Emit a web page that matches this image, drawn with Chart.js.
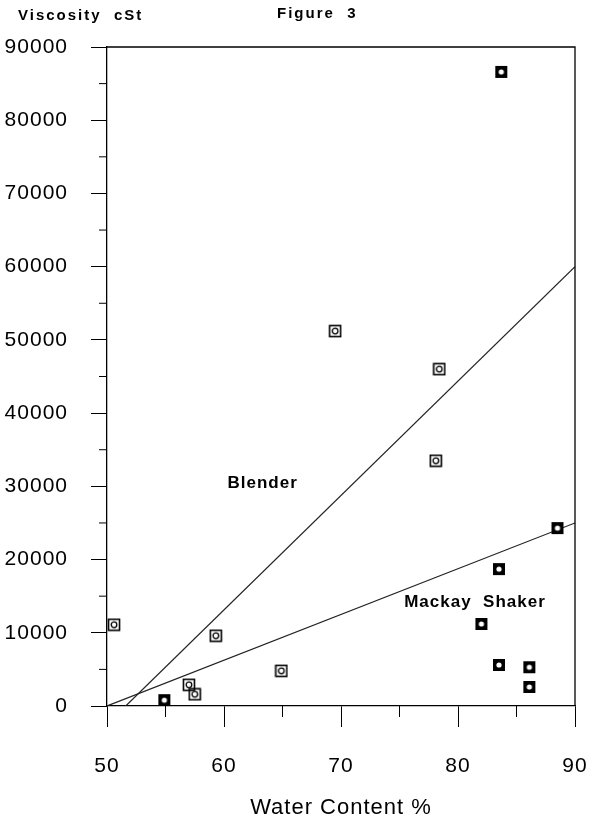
<!DOCTYPE html>
<html lang="en">
<head>
    <meta charset="UTF-8">
    <title>Figure 3 - Viscosity vs Water Content</title>
    <script src="https://cdn.jsdelivr.net/npm/chart.js"></script>
    <style>
        html, body {
            margin: 0;
            padding: 0;
            background: #fff;
        }
        .chart-box {
            width: 589px;
            height: 821px;
        }
    </style>
</head>
<body>
    <div class="chart-box">
        <canvas id="viscosityChart" width="589" height="821"></canvas>
    </div>

    <script>
        // Blender samples
        const blenderWater = [50.6, 59.3, 57.0, 57.5, 64.9, 69.5, 78.4, 78.1];
        const blenderVisc = [11100, 9600, 2900, 1600, 4800, 51200, 46000, 33500];

        // Mackay Shaker samples
        const shakerWater = [54.9, 83.7, 88.5, 83.5, 82.0, 83.5, 86.1, 86.1];
        const shakerVisc = [800, 86600, 24300, 18700, 11200, 5600, 5300, 2600];

        // fitted lines (end points)
        const blenderFitWater = [51.6, 90];
        const blenderFitVisc = [0, 60000];
        const shakerFitWater = [50, 90];
        const shakerFitVisc = [0, 25000];

        const xTicks = [50, 60, 70, 80, 90];
        const xMinorTicks = [55, 65, 75, 85];
        const yMinorTicks = [5000, 15000, 25000, 35000, 45000, 55000, 65000, 75000, 85000];

        const FONT = "'Liberation Sans', Arial, sans-serif";

        function toPoints(xs, ys) {
            return xs.map((x, i) => ({ x: x, y: ys[i] }));
        }

        function openMarker() {
            const c = document.createElement('canvas');
            c.width = 14; c.height = 14;
            const g = c.getContext('2d');
            g.strokeStyle = '#000';
            g.lineWidth = 1.6;
            g.strokeRect(1.5, 1.5, 11, 11);
            g.lineWidth = 1.3;
            g.beginPath();
            g.arc(7, 7, 2.8, 0, Math.PI * 2);
            g.stroke();
            return c;
        }

        function filledMarker() {
            const c = document.createElement('canvas');
            c.width = 14; c.height = 14;
            const g = c.getContext('2d');
            g.fillStyle = '#000';
            g.fillRect(1, 1, 12, 12);
            g.fillStyle = '#fff';
            g.beginPath();
            g.arc(7, 7, 2.6, 0, Math.PI * 2);
            g.fill();
            return c;
        }

        // frame, minor ticks and text labels
        const decorations = {
            id: 'decorations',
            beforeDraw(chart) {
                chart.ctx.letterSpacing = '1px';
            },
            afterDraw(chart) {
                const ctx = chart.ctx;
                const area = chart.chartArea;
                const xs = chart.scales.x;
                const ys = chart.scales.y;
                ctx.save();
                ctx.strokeStyle = '#000';
                ctx.lineWidth = 1.3;
                ctx.beginPath();
                ctx.moveTo(area.left, area.top);
                ctx.lineTo(area.right, area.top);
                ctx.lineTo(area.right, area.bottom);
                ctx.stroke();

                ctx.lineWidth = 1;
                ctx.beginPath();
                xMinorTicks.forEach(v => {
                    const px = xs.getPixelForValue(v);
                    ctx.moveTo(px, area.bottom);
                    ctx.lineTo(px, area.bottom + 11);
                });
                yMinorTicks.forEach(v => {
                    const py = ys.getPixelForValue(v);
                    ctx.moveTo(area.left - 8, py);
                    ctx.lineTo(area.left, py);
                });
                ctx.stroke();

                ctx.fillStyle = '#000';
                ctx.textBaseline = 'middle';
                ctx.textAlign = 'left';

                ctx.font = 'bold 17px ' + FONT;
                ctx.letterSpacing = '1px';
                ctx.fillText('Blender', xs.getPixelForValue(60.3), ys.getPixelForValue(30400));
                ctx.fillText('Mackay  Shaker', xs.getPixelForValue(75.4), ys.getPixelForValue(14100));

                ctx.font = 'bold 15px ' + FONT;
                ctx.letterSpacing = '2px';
                ctx.fillText('Viscosity  cSt', 18, 16);
                ctx.fillText('Figure  3', 277, 14);
                ctx.restore();
            }
        };

        new Chart(document.getElementById('viscosityChart'), {
            type: 'scatter',
            data: {
                datasets: [
                    {
                        label: 'Blender',
                        data: toPoints(blenderWater, blenderVisc),
                        pointStyle: openMarker(),
                        pointRadius: 7
                    },
                    {
                        label: 'Mackay Shaker',
                        data: toPoints(shakerWater, shakerVisc),
                        pointStyle: filledMarker(),
                        pointRadius: 7
                    },
                    {
                        type: 'line',
                        label: 'Blender fit',
                        data: toPoints(blenderFitWater, blenderFitVisc),
                        borderColor: '#222',
                        borderWidth: 1.2,
                        pointRadius: 0
                    },
                    {
                        type: 'line',
                        label: 'Shaker fit',
                        data: toPoints(shakerFitWater, shakerFitVisc),
                        borderColor: '#222',
                        borderWidth: 1.2,
                        pointRadius: 0
                    }
                ]
            },
            options: {
                responsive: false,
                animation: false,
                layout: { padding: { top: 47, right: 14, left: 0, bottom: 0 } },
                plugins: {
                    legend: { display: false },
                    tooltip: { enabled: false }
                },
                scales: {
                    x: {
                        type: 'linear',
                        min: 50,
                        max: 90,
                        afterBuildTicks: s => { s.ticks = xTicks.map(v => ({ value: v })); },
                        afterFit: s => {
                            s.height = 115;
                            s.paddingLeft = 0;
                            s.paddingRight = 0;
                        },
                        ticks: {
                            color: '#000',
                            padding: 27,
                            font: { family: FONT, size: 21 }
                        },
                        grid: {
                            drawOnChartArea: false,
                            tickLength: 21,
                            tickColor: '#000',
                            tickWidth: 1
                        },
                        border: { color: '#000', width: 1.3 },
                        title: {
                            display: true,
                            text: 'Water Content %',
                            color: '#000',
                            font: { family: FONT, size: 22 },
                            padding: { top: 0, bottom: 0 }
                        }
                    },
                    y: {
                        min: 0,
                        max: 90000,
                        afterFit: s => {
                            s.width = 107;
                            s.paddingTop = 0;
                            s.paddingBottom = 0;
                        },
                        ticks: {
                            stepSize: 10000,
                            color: '#000',
                            padding: 23,
                            font: { family: FONT, size: 21 },
                            callback: v => String(v)
                        },
                        grid: {
                            drawOnChartArea: false,
                            tickLength: 16,
                            tickColor: '#000',
                            tickWidth: 1
                        },
                        border: { color: '#000', width: 1.3 }
                    }
                }
            },
            plugins: [decorations]
        });
    </script>
</body>
</html>
